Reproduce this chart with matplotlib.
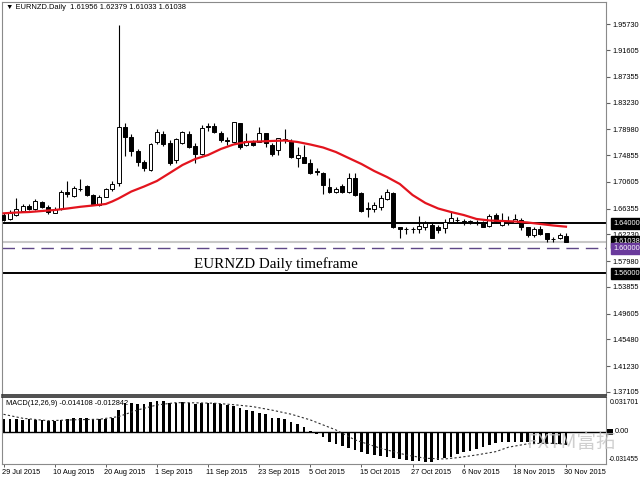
import matplotlib
matplotlib.use('Agg')
import matplotlib.pyplot as plt
from matplotlib.patches import Rectangle
import numpy as np

# ---------------- data ----------------
opens = [1.6532,1.6464,1.6532,1.6596,1.6676,1.6628,1.6735,1.6665,1.6569,1.6628,
         1.6904,1.6840,1.6947,1.6995,1.6851,1.6692,1.6824,1.6947,1.7038,1.7941,
         1.7781,1.7553,1.7373,1.7250,1.7692,1.7819,1.7676,1.7410,1.7685,1.7824,
         1.7633,1.7501,1.7944,1.7952,1.7845,1.7721,1.7701,1.7995,1.7649,1.7697,
         1.7701,1.7835,1.7649,1.7569,1.7745,1.7717,1.7446,1.7462,1.7357,1.7231,
         1.7207,1.6984,1.6894,1.7000,1.6894,1.7127,1.6879,1.6644,1.6623,1.6655,
         1.6783,1.6888,1.6336,1.6312,1.6317,1.6304,1.6336,1.6373,1.6346,1.6320,
         1.6426,1.6448,1.6429,1.6422,1.6413,1.6426,1.6362,1.6532,1.6373,1.6429,
         1.6410,1.6453,1.6336,1.6213,1.6309,1.6241,1.6148,1.6161,1.61956]
highs = [1.6564,1.6612,1.6804,1.6708,1.6708,1.6783,1.6756,1.6692,1.6665,1.6931,
         1.7075,1.6995,1.7107,1.7011,1.6867,1.6851,1.6963,1.7075,1.9563,1.8005,
         1.7824,1.7585,1.7410,1.7681,1.7904,1.7877,1.7729,1.7756,1.7877,1.7877,
         1.7676,1.7968,1.7995,1.7995,1.7877,1.7781,1.8020,1.8005,1.7845,1.7729,
         1.7941,1.7845,1.7676,1.7765,1.7899,1.7740,1.7622,1.7649,1.7421,1.7282,
         1.7223,1.7118,1.6974,1.7022,1.7197,1.7197,1.6904,1.6745,1.6745,1.6851,
         1.6942,1.6904,1.6346,1.6336,1.6346,1.6516,1.6441,1.6400,1.6373,1.6464,
         1.6585,1.6496,1.6464,1.6453,1.6453,1.6441,1.6548,1.6559,1.6559,1.6516,
         1.6544,1.6480,1.6346,1.6346,1.6357,1.6250,1.6177,1.6241,1.62379]
lows = [1.6437,1.6453,1.6516,1.6580,1.6612,1.6612,1.6644,1.6544,1.6564,1.6612,
        1.6815,1.6820,1.6923,1.6835,1.6692,1.6676,1.6820,1.6915,1.6995,1.7473,
        1.7473,1.7319,1.7234,1.7234,1.7660,1.7633,1.7330,1.7357,1.7665,1.7596,
        1.7357,1.7489,1.7877,1.7835,1.7701,1.7649,1.7676,1.7580,1.7633,1.7633,
        1.7697,1.7622,1.7478,1.7489,1.7676,1.7437,1.7303,1.7357,1.7186,1.7170,
        1.6867,1.6879,1.6879,1.6879,1.6879,1.6840,1.6585,1.6505,1.6585,1.6612,
        1.6772,1.6320,1.6161,1.6225,1.6241,1.6241,1.6293,1.6161,1.6241,1.6241,
        1.6400,1.6400,1.6373,1.6389,1.6373,1.6336,1.6346,1.6400,1.6357,1.6373,
        1.6400,1.6293,1.6186,1.6186,1.6213,1.6107,1.6107,1.6145,1.61033]
closes = [1.6453,1.6559,1.6628,1.6676,1.6628,1.6756,1.6665,1.6575,1.6628,1.6904,
          1.6863,1.6958,1.6942,1.6847,1.6703,1.6824,1.6947,1.7027,1.7941,1.7781,
          1.7553,1.7373,1.7287,1.7660,1.7851,1.7660,1.7357,1.7740,1.7851,1.7622,
          1.7505,1.7915,1.7939,1.7861,1.7729,1.7714,1.8011,1.7622,1.7713,1.7654,
          1.7835,1.7676,1.7501,1.7756,1.7735,1.7462,1.7489,1.7367,1.7198,1.7218,
          1.7011,1.6894,1.6942,1.6894,1.7127,1.6851,1.6601,1.6634,1.6692,1.6799,
          1.6904,1.6346,1.6304,1.6306,1.6311,1.6357,1.6410,1.6165,1.6293,1.6426,
          1.6480,1.6457,1.6422,1.6429,1.6406,1.6346,1.6516,1.6441,1.6453,1.6422,
          1.6464,1.6336,1.6213,1.6304,1.6229,1.6145,1.6142,1.6213,1.61038]

ma_idx = [0,2,4,6,8,10,12,14,16,17,18,20,22,24,26,28,30,32,34,36,38,40,42,44,46,
          48,50,52,54,56,58,60,62,64,66,68,70,72,74,76,78,80,82,84,86,88]
ma_vals = [1.6559,1.6572,1.6580,1.6596,1.6612,1.6636,1.6663,1.6684,1.6708,1.6748,
           1.6796,1.6907,1.6987,1.7075,1.7202,1.7330,1.7426,1.7489,1.7585,1.7657,
           1.7697,1.7705,1.7713,1.7721,1.7697,1.7657,1.7609,1.7537,1.7441,1.7346,
           1.7234,1.7138,1.7027,1.6851,1.6724,1.6636,1.6580,1.6532,1.6469,1.6445,
           1.6437,1.6429,1.6413,1.6389,1.6365,1.6346]

macd_hist = [0.0134,0.0127,0.0127,0.0123,0.0127,0.0123,0.0117,0.0110,0.0113,0.0120,
             0.0127,0.0144,0.0137,0.0137,0.0127,0.0127,0.0134,0.0144,0.0223,0.0292,
             0.0292,0.0288,0.0288,0.0305,0.0317,0.0315,0.0298,0.0298,0.0305,0.0298,
             0.0281,0.0292,0.0292,0.0292,0.0281,0.0271,0.0264,0.0247,0.0223,0.0213,
             0.0196,0.0185,0.0144,0.0144,0.0134,0.0103,0.0082,0.0051,0.0007,-0.0027,
             -0.0051,-0.0103,-0.0130,-0.0144,-0.0165,-0.0189,-0.0212,-0.0233,-0.0240,-0.0247,
             -0.0258,-0.0268,-0.0281,-0.0292,-0.0302,-0.0302,-0.0309,-0.0315,-0.0292,-0.0274,
             -0.0258,-0.0233,-0.0212,-0.0199,-0.0178,-0.0155,-0.0137,-0.0120,-0.0109,-0.0103,
             -0.0103,-0.0109,-0.0109,-0.0120,-0.0120,-0.0130,-0.0130,-0.0130,-0.0141]
sig_idx = [0,3,7,11,15,18,21,24,27,30,33,36,39,42,45,48,52,55,59,63,66,69,71,74,77,79,82,85,88]
sig_vals = [0.0179,0.0138,0.0113,0.0122,0.0128,0.0155,0.0224,0.0275,0.0299,0.0297,
            0.0293,0.0278,0.0258,0.0222,0.0180,0.0121,0.0018,-0.0085,-0.0171,-0.0240,
            -0.0274,-0.0281,-0.0268,-0.0240,-0.0206,-0.0160,-0.0125,-0.0118,-0.012842]
macd_main_last = -0.014108

date_idx = [0,8,16,24,32,40,48,56,64,72,80,88]
date_labels = ['29 Jul 2015','10 Aug 2015','20 Aug 2015','1 Sep 2015','11 Sep 2015',
               '23 Sep 2015','5 Oct 2015','15 Oct 2015','27 Oct 2015','6 Nov 2015',
               '18 Nov 2015','30 Nov 2015']
price_ticks = [1.95730,1.91605,1.87355,1.83230,1.78980,1.74855,1.70605,1.66355,
               1.62230,1.57980,1.53855,1.49605,1.45480,1.41230,1.37105]
level_black = [1.64000, 1.56000]
level_purple = 1.60000
bid_price = 1.61038
macd_top_label = 0.031701
macd_bot_label = -0.031455

# ---------------- figure ----------------
UI = ['Liberation Sans', 'DejaVu Sans']
fig = plt.figure(figsize=(6.4, 4.8), dpi=100)
fig.patch.set_facecolor('white')
W, H = 640.0, 480.0
L, R = 2 / W, 606 / W
ax = fig.add_axes([L, 1 - 395 / H, R - L, (395 - 2) / H])
axm = fig.add_axes([L, 1 - 464 / H, R - L, (464 - 397.3) / H])

n = len(opens)
x = np.arange(n)
o = np.array(opens); h = np.array(highs); lo = np.array(lows); c = np.array(closes)
up = c >= o

ax.vlines(x, lo, h, color='black', lw=0.8, zorder=2)
ax.bar(x, np.abs(c - o), bottom=np.minimum(o, c), width=0.62,
       color=np.where(up, 'white', 'black'), edgecolor='black', lw=0.7, zorder=3)
ax.plot(ma_idx, ma_vals, color='#e3141e', lw=1.6, zorder=4)

for lv in level_black:
    ax.axhline(lv, color='black', lw=1.4, zorder=1)
ax.axhline(level_purple, color='#5e4787', lw=1.0, dashes=(9, 5), zorder=1)
ax.axhline(bid_price, color='#c8c8c8', lw=1.5, zorder=0)

ax.set_xlim(-0.235, 94.26)
ax.set_ylim(1.36616, 1.99295)
ax.set_xticks([])
ax.yaxis.tick_right()
ax.set_yticks(price_ticks)
ax.set_yticklabels(['%.5f' % v for v in price_ticks])
ax.tick_params(axis='y', length=3, width=0.8, pad=1.5, labelsize=5.3, colors='#606060',
               labelcolor='black')
for t in ax.get_yticklabels():
    t.set_family(UI)
for s in ['left', 'top', 'right']:
    ax.spines[s].set_color('#8a8a8a')
ax.spines['bottom'].set_color('#303030')
ax.spines['bottom'].set_linewidth(1.2)

def boxed(axis, val, txt, bg):
    axis.text(1.012, val, txt, transform=axis.get_yaxis_transform(), ha='left', va='center',
              fontsize=5.3, family=UI, color='white', clip_on=False, zorder=10,
              bbox=dict(boxstyle='square,pad=0.3', fc=bg, ec=bg))
boxed(ax, level_black[0], '%.5f' % level_black[0], 'black')
boxed(ax, bid_price, '%.5f' % bid_price, 'black')
boxed(ax, level_purple, '%.5f' % level_purple, '#6a3a9c')
boxed(ax, level_black[1], '%.5f' % level_black[1], 'black')

ax.text(0.006, 0.986, '\u25bc EURNZD.Daily  %.5f %.5f %.5f %.5f' % (opens[-1], highs[-1], lows[-1], closes[-1]),
        transform=ax.transAxes, ha='left', va='center', fontsize=5.4, family=UI, color='black')
ax.text(42.7, 1.5743, 'EURNZD Daily timeframe', ha='center', va='center',
        fontsize=10.8, family='Liberation Serif', color='black')

# ---------------- MACD ----------------
mh = np.array(macd_hist)
axm.bar(x, mh, width=0.42, color='black', zorder=2)
axm.axhline(0, color='black', lw=1.0, zorder=1)
axm.plot(sig_idx, sig_vals, color='#303030', lw=0.8, dashes=(2, 2), zorder=3)
axm.set_xlim(-0.235, 94.26)
axm.set_ylim(-0.0333, 0.0354)
axm.set_yticks([])
axm.set_xticks(date_idx)
axm.set_xticklabels([])
axm.tick_params(axis='x', length=2, width=0.7, colors='#606060')
for s in ['left', 'bottom', 'right']:
    axm.spines[s].set_color('#8a8a8a')
axm.spines['top'].set_color('#303030')
axm.spines['top'].set_linewidth(1.2)
for i, lab in zip(date_idx, date_labels):
    axm.text(i - 0.25, -0.12, lab, transform=axm.get_xaxis_transform(), ha='left', va='center',
             fontsize=5.3, family=UI, color='black', clip_on=False)

axm.text(0.006, 0.9, 'MACD(12,26,9) %.6f %.6f' % (macd_main_last, sig_vals[-1]),
         transform=axm.transAxes, ha='left', va='center', fontsize=5.3, family=UI, color='black')
mtr = axm.get_yaxis_transform()
axm.text(1.006, macd_top_label - 0.0017, '%.6f' % macd_top_label, transform=mtr, ha='left',
         va='center', fontsize=5.0, family=UI, clip_on=False)
axm.text(1.004, macd_bot_label + 0.0027, '%.6f' % macd_bot_label, transform=mtr, ha='left',
         va='center', fontsize=4.8, family=UI, clip_on=False)
axm.add_patch(Rectangle((1.002, -0.0030), 0.010, 0.0060, transform=mtr, facecolor='black',
                        edgecolor='none', clip_on=False, zorder=5))
axm.text(1.014, 0.0, '0.00', transform=mtr, ha='left', va='center', fontsize=5.3, family=UI,
         clip_on=False)

fig.text(571 / W, 1 - 443 / H, 'FXTM富拓', ha='center', va='center', fontsize=14,
         family=['Noto Sans CJK SC', 'DejaVu Sans'], color='#c4c4c4', alpha=0.8)

fig.savefig('out.png', dpi=100, facecolor='white')
